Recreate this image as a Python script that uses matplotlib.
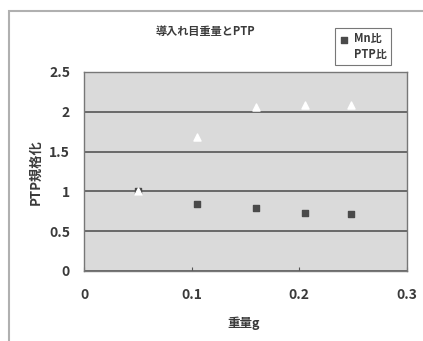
import matplotlib.pyplot as plt
from matplotlib.patches import Rectangle

plt.rcParams['font.family'] = ['Noto Sans CJK JP', 'DejaVu Sans']

# data
weight = [0.05, 0.105, 0.16, 0.205, 0.248]
mn_ratio = [1.0, 0.84, 0.79, 0.73, 0.71]
ptp_ratio = [1.0, 1.68, 2.06, 2.09, 2.08]

x_ticks = [0, 0.1, 0.2, 0.3]
x_tick_labels = ["0", "0.1", "0.2", "0.3"]
y_ticks = [0, 0.5, 1, 1.5, 2, 2.5]
y_tick_labels = ["0", "0.5", "1", "1.5", "2", "2.5"]

title = "導入れ目重量とPTP"
x_label = "重量g"
y_label = "PTP規格化"

text_color = "#3a3a3a"

fig = plt.figure(figsize=(4.23, 3.41), dpi=100)
fig.patch.set_facecolor("white")

# outer chart frame (only left and top edges are visible in the picture)
fig.patches.append(Rectangle((9 / 423, -0.1), 1.2, 1 - 11 / 341 + 0.1,
                             transform=fig.transFigure, fill=False,
                             edgecolor="#b0b0b0", linewidth=1.5))

ax = fig.add_axes([84 / 423, 1 - 271 / 341, (407 - 84) / 423, (271 - 72) / 341])
ax.set_facecolor("#dadada")

ax.scatter(weight, mn_ratio, marker="s", s=22, color="#4a4a4a", label="Mn比", zorder=3)
ax.scatter(weight, ptp_ratio, marker="^", s=26, color="white", label="PTP比", zorder=4)

ax.set_xlim(0, 0.3)
ax.set_ylim(0, 2.5)
ax.set_xticks(x_ticks)
ax.set_xticklabels(x_tick_labels)
ax.set_yticks(y_ticks)
ax.set_yticklabels(y_tick_labels)
ax.tick_params(axis="x", direction="in", length=3, color="#555555", pad=12,
               labelsize=10, labelcolor=text_color)
ax.tick_params(axis="y", length=0, pad=10, labelsize=10, labelcolor=text_color)
for lbl in ax.get_xticklabels() + ax.get_yticklabels():
    lbl.set_fontweight("bold")

ax.grid(axis="y", color="#555555", linewidth=1.2)
ax.set_axisbelow(True)
for side in ax.spines.values():
    side.set_color("#777777")
    side.set_linewidth(1.0)

fig.text(205 / 423, 1 - 32 / 341, title, fontsize=8, fontweight="bold",
         color=text_color, ha="center", va="center")
fig.text(244 / 423, 1 - 323 / 341, x_label, fontsize=9, fontweight="bold",
         color=text_color, ha="center", va="center")
fig.text(35 / 423, 1 - 172 / 341, y_label, fontsize=9.5, fontweight="bold",
         color=text_color, ha="center", va="center", rotation=90)

leg = ax.legend(loc="upper left", bbox_to_anchor=(335 / 423, 1 - 28 / 341),
                bbox_transform=fig.transFigure, fontsize=8, frameon=True,
                fancybox=False, handlelength=0.8, handletextpad=0.5,
                borderpad=0.4, labelspacing=0.2, borderaxespad=0)
leg.get_frame().set_edgecolor("#555555")
leg.get_frame().set_linewidth(0.8)
for t in leg.get_texts():
    t.set_color(text_color)
    t.set_fontweight("bold")

fig.savefig("out.png", dpi=100)
